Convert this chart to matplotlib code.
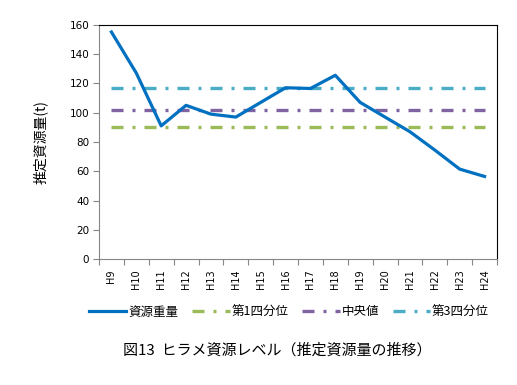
import matplotlib
matplotlib.use("Agg")
import matplotlib.pyplot as plt
import numpy as np

plt.rcParams['font.family'] = ['DejaVu Sans', 'Noto Sans CJK JP']
JP = ['Noto Sans CJK JP', 'DejaVu Sans']

categories = ['H9', 'H10', 'H11', 'H12', 'H13', 'H14', 'H15', 'H16',
              'H17', 'H18', 'H19', 'H20', 'H21', 'H22', 'H23', 'H24']
biomass = [155, 127, 91, 105, 99, 97, 107, 117, 116.5, 125.5, 107, 97, 87, 74.5, 61.5, 56.5]
q1 = 90
median = 102
q3 = 117

fig = plt.figure(figsize=(5.17, 3.85), dpi=100)
ax = fig.add_axes([99/517, 1-259.3/385, (497-99)/517, (259.3-24.7)/385])

x = np.arange(len(categories))
dash = (0, (3.6, 2.7, 0.9, 2.7))
ax.plot(x, biomass, color='#0070C0', lw=2.3, label='資源重量', zorder=5)
ax.plot(x, [q1]*len(x), color='#9BBB59', lw=2.4, ls=dash, label='第1四分位')
ax.plot(x, [median]*len(x), color='#8064A2', lw=2.4, ls=dash, label='中央値')
ax.plot(x, [q3]*len(x), color='#4BACC6', lw=2.4, ls=dash, label='第3四分位')

ax.set_xlim(-0.5, len(x)-0.5)
ax.set_ylim(0, 160)
ax.set_yticks(np.arange(0, 161, 20))
ax.set_xticks(np.arange(-0.5, len(x), 1.0))
ax.set_xticklabels([])
ax.set_xticks(x, minor=True)
ax.set_xticklabels(categories, minor=True, rotation=90, fontsize=7)
ax.tick_params(axis='x', which='minor', length=0, pad=7)
ax.tick_params(axis='x', which='major', length=4, color='#868686', direction='out')
ax.tick_params(axis='y', length=4, color='#868686', direction='out', labelsize=7.5, pad=3)

for s in ['top', 'right']:
    ax.spines[s].set_color('black')
    ax.spines[s].set_linewidth(0.8)
for s in ['left', 'bottom']:
    ax.spines[s].set_color('#868686')
    ax.spines[s].set_linewidth(0.8)

fig.text(40/517, 1-142/385, '推定資源量(t)', rotation=90, ha='center', va='center',
         fontsize=10, family=JP)

leg = fig.legend(loc='center', bbox_to_anchor=(289/517, 1-312/385), ncol=4, frameon=False,
                 prop={'family': JP, 'size': 9}, handlelength=3.0, handletextpad=0.15,
                 columnspacing=1.1)

fig.text(277/517, 1-350/385, '図13  ヒラメ資源レベル（推定資源量の推移）', ha='center', va='center',
         fontsize=10.8, family=JP)

fig.savefig('out.png', dpi=100)
